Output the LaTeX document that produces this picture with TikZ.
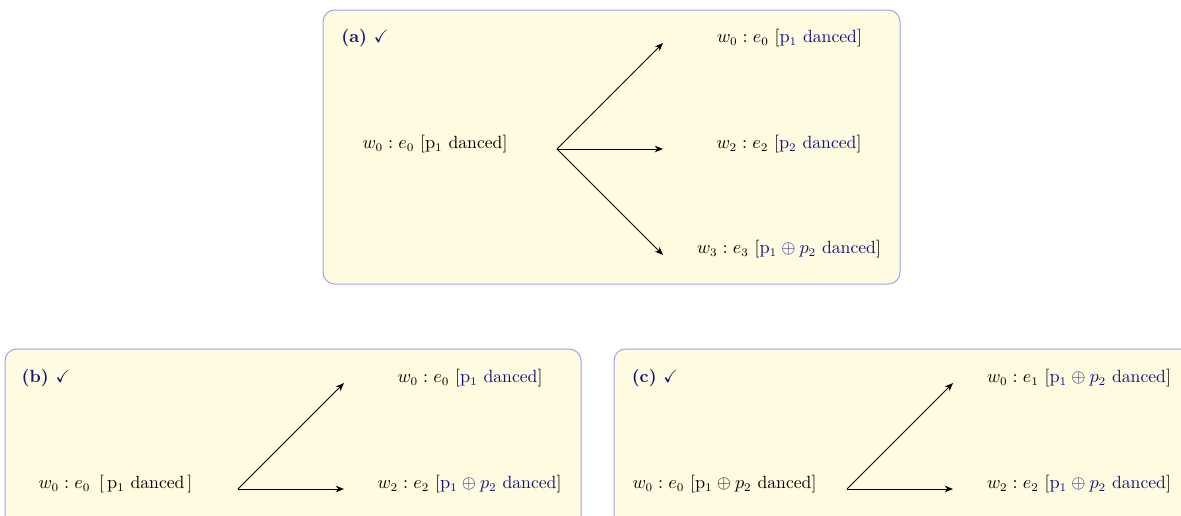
\documentclass[tikz,border=0pt]{standalone}
\usepackage{amsmath,amssymb}
\usetikzlibrary{arrows.meta}
\definecolor{boxfill}{RGB}{255,251,224}
\definecolor{boxline}{RGB}{160,160,250}
\definecolor{navy}{RGB}{18,18,125}
\newcommand{\pp}{\mathrm{p}_1}
\newcommand{\ppsum}{\mathrm{p}_1\oplus p_2}
\newcommand{\bl}[1]{\textcolor{navy}{#1}}
\begin{document}
\begin{tikzpicture}[x=0.6pt,y=-0.6pt,
  font=\fontsize{10.6}{13}\selectfont,
  panel/.style={draw=boxline,fill=boxfill,rounded corners=7pt,line width=0.6pt},
  lbl/.style={inner sep=0pt,text=navy,font=\fontsize{10.6}{13}\selectfont\bfseries},
  world/.style={inner sep=0pt,anchor=center},
  arr/.style={-{Stealth[length=5pt,width=4pt]},line width=0.6pt}]
\useasboundingbox (0,0) rectangle (1181,515);
% panels
\draw[panel] (323,10) rectangle (900,284);
\draw[panel] (5,349) rectangle (581,540);
\draw[panel] (614,349) rectangle (1200,540);
% (a)
\node[lbl] (la) at (365,38) {(a) \textmd{$\checkmark$}};
\node[world] (a0) at (435,144) {$w_0 : e_0$ [$\pp$ danced]};
\coordinate (as) at (557,149);
\coordinate (ae1) at (663,43);
\coordinate (ae2) at (663,149);
\coordinate (ae3) at (663,255);
\node[world] (a1) at (789.5,38) {$w_0 : e_0$ [\bl{$\pp$ danced}]};
\node[world] (a2) at (789,144) {$w_2 : e_2$ [\bl{$\mathrm{p}_2$ danced}]};
\node[world] (a3) at (789,249) {$w_3 : e_3$ [\bl{$\ppsum$ danced}]};
\draw[arr] (as) -- (ae1);
\draw[arr] (as) -- (ae2);
\draw[arr] (as) -- (ae3);
% (b)
\node[lbl] (lb) at (46,378) {(b) \textmd{$\checkmark$}};
\node[world] (b0) at (115.5,484) {$w_0 : e_0$\ \,[\,$\pp$ danced\,]};
\coordinate (bs) at (238,489);
\coordinate (be1) at (344,383);
\coordinate (be2) at (344,489);
\node[world] (b1) at (470,378) {$w_0 : e_0$ [\bl{$\pp$ danced}]};
\node[world] (b2) at (469.5,484) {$w_2 : e_2$ [\bl{$\ppsum$ danced}]};
\draw[arr] (bs) -- (be1);
\draw[arr] (bs) -- (be2);
% (c)
\node[lbl] (lc) at (655,378) {(c) \textmd{$\checkmark$}};
\node[world] (c0) at (724.5,484) {$w_0 : e_0$ [$\ppsum$ danced]};
\coordinate (cs) at (847,489);
\coordinate (ce1) at (953,383);
\coordinate (ce2) at (953,489);
\node[world] (c1) at (1079,378) {$w_0 : e_1$ [\bl{$\ppsum$ danced}]};
\node[world] (c2) at (1079,484) {$w_2 : e_2$ [\bl{$\ppsum$ danced}]};
\draw[arr] (cs) -- (ce1);
\draw[arr] (cs) -- (ce2);
\end{tikzpicture}
\end{document}
